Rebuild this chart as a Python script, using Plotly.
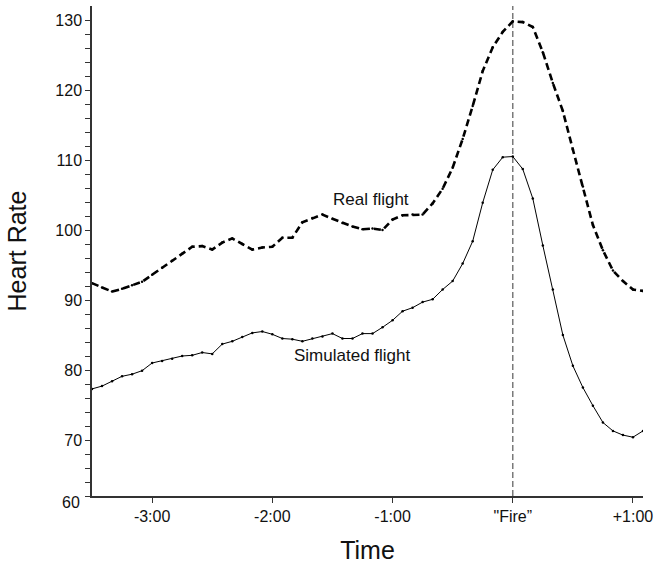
import plotly.graph_objects as go

# Seconds relative to the "Fire" command, sampled every 5 s
time_s = list(range(-210, 66, 5))

simulated_hr = [
    77.3, 77.7, 78.4, 79.1, 79.4, 79.9, 81.0, 81.3, 81.6, 82.0,
    82.1, 82.5, 82.3, 83.7, 84.1, 84.7, 85.3, 85.5, 85.1, 84.5,
    84.4, 84.1, 84.5, 84.8, 85.2, 84.5, 84.5, 85.2, 85.2, 86.1,
    87.1, 88.4, 88.9, 89.7, 90.1, 91.5, 92.7, 95.2, 98.4, 103.9,
    108.6, 110.4, 110.5, 108.7, 104.5, 97.8, 91.5, 85.0, 80.6, 77.5,
    74.9, 72.5, 71.3, 70.7, 70.4, 71.3,
]

real_hr = [
    92.4, 91.8, 91.2, 91.6, 92.1, 92.6, 93.6, 94.6, 95.6, 96.6,
    97.6, 97.7, 97.2, 98.2, 98.8, 98.0, 97.2, 97.5, 97.6, 98.9,
    98.9, 101.1, 101.7, 102.2, 101.6, 101.0, 100.5, 100.1, 100.2, 100.0,
    101.5, 102.1, 102.2, 102.2, 103.8, 105.9, 108.9, 113.0, 117.7, 122.7,
    126.1, 128.3, 129.8, 129.7, 129.0, 125.4, 121.0, 117.0, 111.5, 106.2,
    100.7, 97.1, 94.2, 92.7, 91.5, 91.3,
]

x_tickvals = [-180, -120, -60, 0, 60]
x_ticktext = ["-3:00", "-2:00", "-1:00", "\"Fire\u201d", "+1:00"]
y_tickvals = [70, 80, 90, 100, 110, 120, 130]

FIRE_T = 0
X_RANGE = [-210, 65]
Y_RANGE = [62, 132]

FONT = "Liberation Sans, Arial, Helvetica, sans-serif"

fig = go.Figure()

fig.add_trace(go.Scatter(
    x=time_s, y=real_hr, mode="lines+markers", name="Real flight",
    line=dict(color="black", width=2.6, dash="7px,4px"),
    marker=dict(color="black", size=2.5),
))
fig.add_trace(go.Scatter(
    x=time_s, y=simulated_hr, mode="lines+markers", name="Simulated flight",
    line=dict(color="black", width=1),
    marker=dict(color="black", size=2.5),
))

# Vertical marker at the moment of "Fire"
fig.add_shape(type="line", xref="x", yref="paper", x0=FIRE_T, x1=FIRE_T, y0=0, y1=1,
              line=dict(color="#7a7a7a", width=1.5, dash="6px,3px"), layer="below")

fig.add_annotation(x=-71, y=104.4, text="Real flight", showarrow=False,
                   font=dict(family=FONT, size=17, color="#111"))
fig.add_annotation(x=-80, y=82.1, text="Simulated flight", showarrow=False,
                   font=dict(family=FONT, size=17, color="#111"))
# Bottom label of the heart-rate scale
fig.add_annotation(xref="paper", x=0, y=Y_RANGE[0], text="60", showarrow=False,
                   xanchor="right", yanchor="middle", xshift=-10, yshift=-6,
                   font=dict(family=FONT, size=16, color="#111"))

fig.update_layout(
    width=659, height=568,
    margin=dict(l=92, r=14, t=6, b=72),
    paper_bgcolor="white", plot_bgcolor="white",
    showlegend=False,
    font=dict(family=FONT, size=16, color="#111"),
    xaxis=dict(
        range=X_RANGE, tickvals=x_tickvals, ticktext=x_ticktext,
        showgrid=False, zeroline=False, showline=True, linecolor="#333", linewidth=1.5,
        ticks="outside", ticklen=5, tickcolor="#333", tickwidth=1.2,
        title=dict(text="Time", font=dict(size=25), standoff=18),
        tickfont=dict(size=16),
    ),
    yaxis=dict(
        range=Y_RANGE, tickvals=y_tickvals,
        showgrid=False, zeroline=False, showline=True, linecolor="#333", linewidth=1.5,
        ticks="outside", ticklen=5, tickcolor="#333", tickwidth=1.2,
        minor=dict(tickvals=list(range(62, 132, 2)), ticks="outside", ticklen=5,
                   tickcolor="#333", tickwidth=1, showgrid=False),
        title=dict(text="Heart Rate", font=dict(size=25), standoff=22),
        tickfont=dict(size=16),
    ),
)

fig.write_html("out.html")
